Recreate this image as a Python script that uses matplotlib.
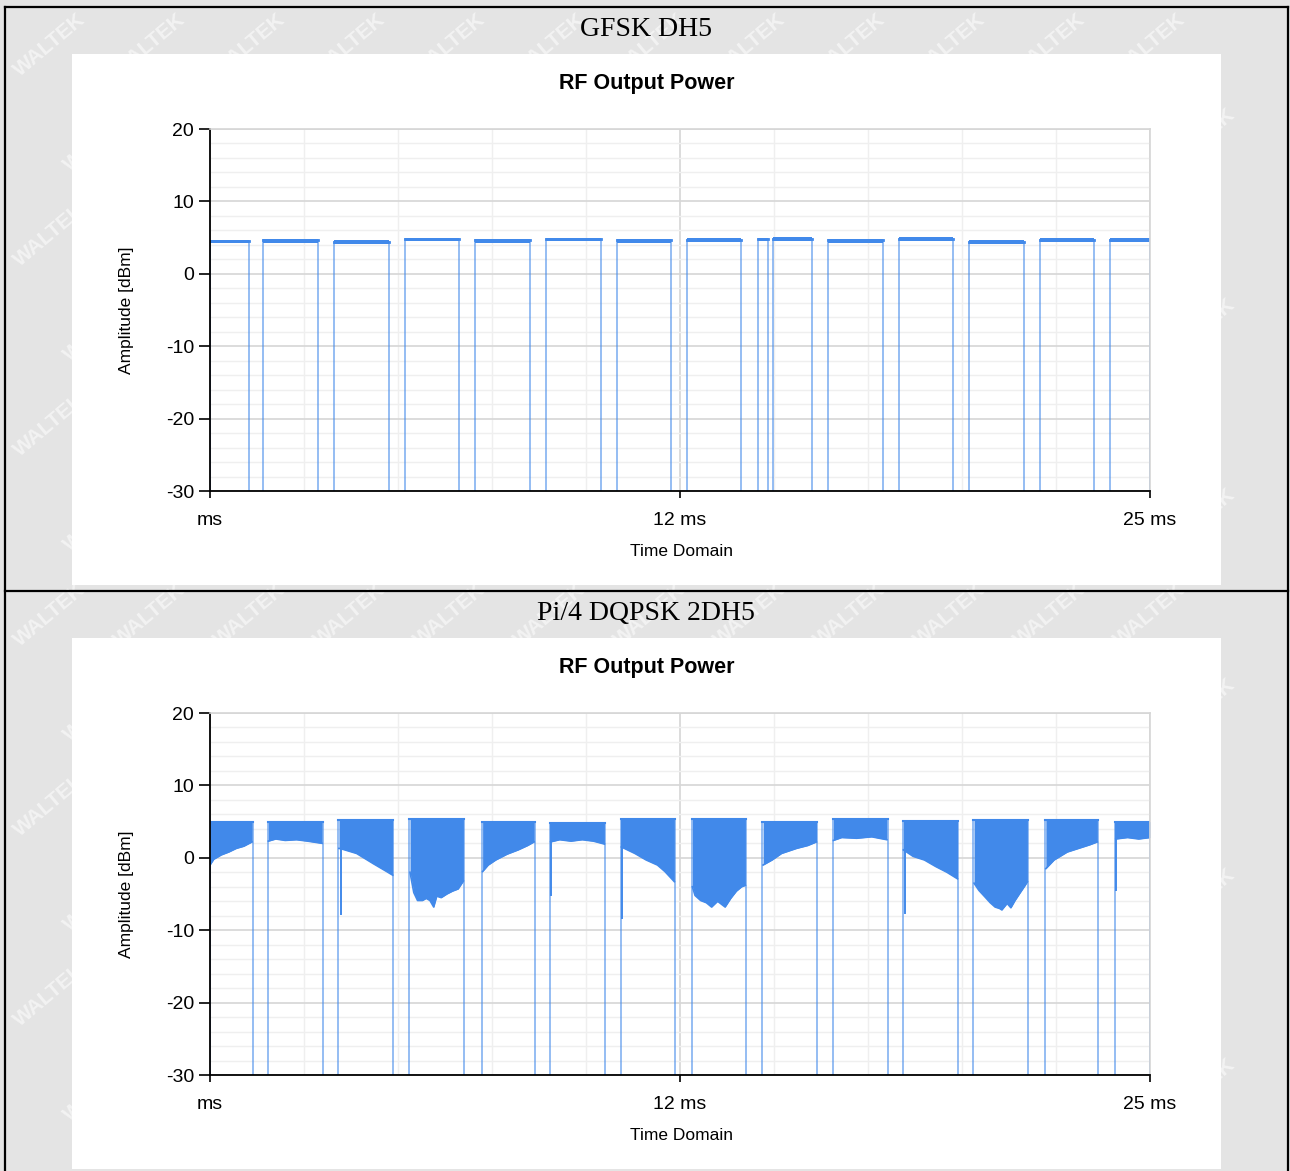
import numpy as np
import matplotlib.pyplot as plt
from matplotlib.patches import Rectangle
from matplotlib.lines import Line2D
from matplotlib.ticker import MultipleLocator

# ---- GFSK DH5 : burst start / end (ms) and level (dBm)
gfsk_start = [0.0, 1.42, 3.30, 5.18, 7.06, 8.94, 10.82, 12.68, 14.57, 14.97, 16.44, 18.32, 20.19, 22.07, 23.94]
gfsk_end = [1.03, 2.88, 4.75, 6.63, 8.51, 10.39, 12.27, 14.12, 14.85, 16.00, 17.90, 19.77, 21.64, 23.50, 25.0]
gfsk_level = [4.5, 4.6, 4.4, 4.8, 4.6, 4.8, 4.6, 4.7, 4.8, 4.85, 4.6, 4.85, 4.4, 4.7, 4.7]

# ---- Pi/4 DQPSK 2DH5 : bursts, top level and lower envelope of the noise band
dqpsk_start = [0.0, 1.53, 3.41, 5.30, 7.23, 9.04, 10.92, 12.81, 14.69, 16.56, 18.42, 20.30, 22.21, 24.07]
dqpsk_end = [1.14, 3.00, 4.88, 6.76, 8.64, 10.51, 12.37, 14.26, 16.15, 18.02, 19.90, 21.76, 23.62, 25.0]
dqpsk_top = [5.0, 4.9, 5.2, 5.4, 4.9, 4.8, 5.3, 5.3, 5.0, 5.3, 5.1, 5.2, 5.2, 5.0]
dqpsk_env_t = [
    [0.0, 0.1, 0.3, 0.5, 0.7, 0.9, 1.12],
    [1.55, 1.75, 2.0, 2.3, 2.6, 2.98],
    [3.43, 3.55, 3.9, 4.34, 4.7, 4.86],
    [5.32, 5.42, 5.52, 5.65, 5.75, 5.85, 5.95, 6.03, 6.15, 6.3, 6.45, 6.6, 6.74],
    [7.25, 7.4, 7.6, 7.9, 8.2, 8.45, 8.62],
    [9.06, 9.3, 9.6, 9.9, 10.2, 10.49],
    [10.94, 11.3, 11.6, 11.9, 12.1, 12.35],
    [12.83, 12.9, 13.05, 13.2, 13.34, 13.5, 13.7, 13.85, 14.0, 14.14, 14.24],
    [14.71, 14.95, 15.2, 15.6, 15.9, 16.13],
    [16.58, 16.8, 17.2, 17.6, 18.0],
    [18.44, 18.7, 19.0, 19.3, 19.6, 19.88],
    [20.32, 20.45, 20.61, 20.75, 20.88, 21.0, 21.06, 21.2, 21.3, 21.41, 21.55, 21.68, 21.74],
    [22.23, 22.45, 22.8, 23.1, 23.4, 23.6],
    [24.09, 24.4, 24.7, 25.0],
]
dqpsk_env_db = [
    [-1.0, -0.2, 0.4, 0.8, 1.3, 1.6, 2.2],
    [2.3, 2.6, 2.4, 2.5, 2.3, 2.0],
    [1.3, 1.15, 0.6, -0.8, -1.9, -2.4],
    [-2.0, -4.8, -5.9, -5.9, -5.6, -5.9, -6.8, -5.3, -5.5, -5.0, -4.6, -4.3, -3.2],
    [-1.9, -1.0, -0.3, 0.5, 1.1, 1.7, 2.2],
    [2.2, 2.5, 2.3, 2.5, 2.3, 1.9],
    [1.5, 0.6, -0.3, -1.0, -1.9, -3.3],
    [-4.0, -5.2, -5.9, -6.2, -6.8, -6.0, -6.8, -5.6, -4.6, -4.0, -3.8],
    [-1.0, -0.3, 0.6, 1.3, 1.7, 2.2],
    [2.4, 2.8, 2.7, 2.9, 2.5],
    [1.1, 0.2, -0.3, -1.2, -2.0, -2.9],
    [-3.5, -4.5, -5.4, -6.2, -6.8, -7.0, -7.2, -6.3, -6.9, -5.9, -4.8, -3.8, -3.3],
    [-1.5, -0.3, 0.8, 1.3, 1.8, 2.2],
    [2.6, 2.8, 2.6, 2.8],
]
dqpsk_spike_t = [3.48, 9.08, 10.95, 18.48, 24.10]
dqpsk_spike_db = [-7.7, -5.1, -8.3, -7.6, -4.4]

x_ticks = [0, 12.5, 25]
x_ticklabels = ['ms', '12 ms', '25 ms']
y_ticks = [-30, -20, -10, 0, 10, 20]

W, H = 1290, 1171
BLUE = '#4189ea'
SANS = 'Liberation Sans'
SERIF = 'Liberation Serif'
plt.rcParams['axes.unicode_minus'] = False

fig = plt.figure(figsize=(W / 100, H / 100), dpi=100)
fig.patch.set_facecolor('#e4e4e4')


def fx(px):
    return px / W


def fy(py):
    return 1 - py / H


# watermark on the grey background (kept inside the page)
for j, yy in enumerate(range(45, H - 40, 95)):
    for xx in range(50 + (j % 2) * 50, W - 40, 100):
        fig.text(fx(xx), fy(yy), 'WALTEK', rotation=40, fontsize=15, fontweight='bold',
                 color='#f3f3f3', ha='center', va='center', family=SANS, zorder=-3)


def make_panel(dy, cell_title):
    # white chart panel
    fig.add_artist(Rectangle((fx(72), fy(585 + dy)), fx(1221 - 72), (585 - 54) / H,
                             transform=fig.transFigure, facecolor='white', edgecolor='none', zorder=-2))
    fig.text(fx(646), fy(29 + dy), cell_title, ha='center', va='center', fontsize=20, family=SERIF)
    fig.text(fx(647), fy(83 + dy), 'RF Output Power', ha='center', va='center',
             fontsize=15.5, fontweight='bold', family=SANS)
    fig.text(fx(681), fy(552 + dy), 'Time Domain', ha='center', va='center', fontsize=12.5, family=SANS)
    fig.text(fx(127), fy(310 + dy), 'Amplitude [dBm]', ha='center', va='center', rotation=90,
             fontsize=12.5, family=SANS)

    ax = fig.add_axes([fx(210), fy(491 + dy), fx(1150 - 210), (491 - 129) / H])
    ax.set_xlim(0, 25)
    ax.set_ylim(-30, 20)
    ax.set_xticks(x_ticks)
    ax.set_xticklabels(x_ticklabels)
    ax.set_yticks(y_ticks)
    ax.xaxis.set_minor_locator(MultipleLocator(2.5))
    ax.yaxis.set_minor_locator(MultipleLocator(2))
    ax.tick_params(axis='y', which='major', length=8, width=1.2, pad=3.5, labelsize=14)
    ax.tick_params(axis='x', which='major', length=5, width=1.2, pad=10, labelsize=14)
    ax.tick_params(which='minor', length=0)
    for lab in ax.get_xticklabels() + ax.get_yticklabels():
        lab.set_family(SANS)
    ax.grid(True, which='major', color='#d6d6d6', lw=1.2)
    ax.grid(True, which='minor', color='#efefef', lw=1.0)
    ax.set_axisbelow(True)
    for side in ['left', 'bottom']:
        ax.spines[side].set_linewidth(1.3)
        ax.spines[side].set_color('black')
    for side in ['top', 'right']:
        ax.spines[side].set_linewidth(1.2)
        ax.spines[side].set_color('#d6d6d6')
    return ax


ax1 = make_panel(0, 'GFSK DH5')
for s, e, lv in zip(gfsk_start, gfsk_end, gfsk_level):
    ax1.plot([s, s], [-40, lv], color=BLUE, lw=1.3, alpha=0.6)
    ax1.plot([e, e], [-40, lv], color=BLUE, lw=1.3, alpha=0.6)
    ax1.fill_between([s, e], lv - 0.3, lv + 0.2, color=BLUE, lw=0)
    ax1.plot([s, e], [lv, lv], color=BLUE, lw=2.0)

ax2 = make_panel(584, 'Pi/4 DQPSK 2DH5')
for s, e, top, t, db in zip(dqpsk_start, dqpsk_end, dqpsk_top, dqpsk_env_t, dqpsk_env_db):
    ax2.plot([s, s], [-40, top], color=BLUE, lw=1.3, alpha=0.6)
    ax2.plot([e, e], [-40, top], color=BLUE, lw=1.3, alpha=0.6)
    ax2.fill_between(t, db, top, color=BLUE, lw=0)
    ax2.plot(t, db, color=BLUE, lw=1.2)
    ax2.plot([s, e], [top, top], color=BLUE, lw=1.5)
for t, db, top in zip(dqpsk_spike_t, dqpsk_spike_db, [5.2, 4.8, 5.3, 5.1, 5.0]):
    ax2.plot([t, t], [db, top], color=BLUE, lw=1.4)

# table frame
for (x0, y0, x1, y1) in [(5, 7, 1288, 7), (5, 591, 1288, 591), (5, 7, 5, H), (1288, 7, 1288, H)]:
    fig.add_artist(Line2D([fx(x0), fx(x1)], [fy(y0), fy(y1)], transform=fig.transFigure,
                          color='black', lw=1.6, zorder=5))

fig.savefig('out.png', dpi=100, facecolor=fig.get_facecolor())
